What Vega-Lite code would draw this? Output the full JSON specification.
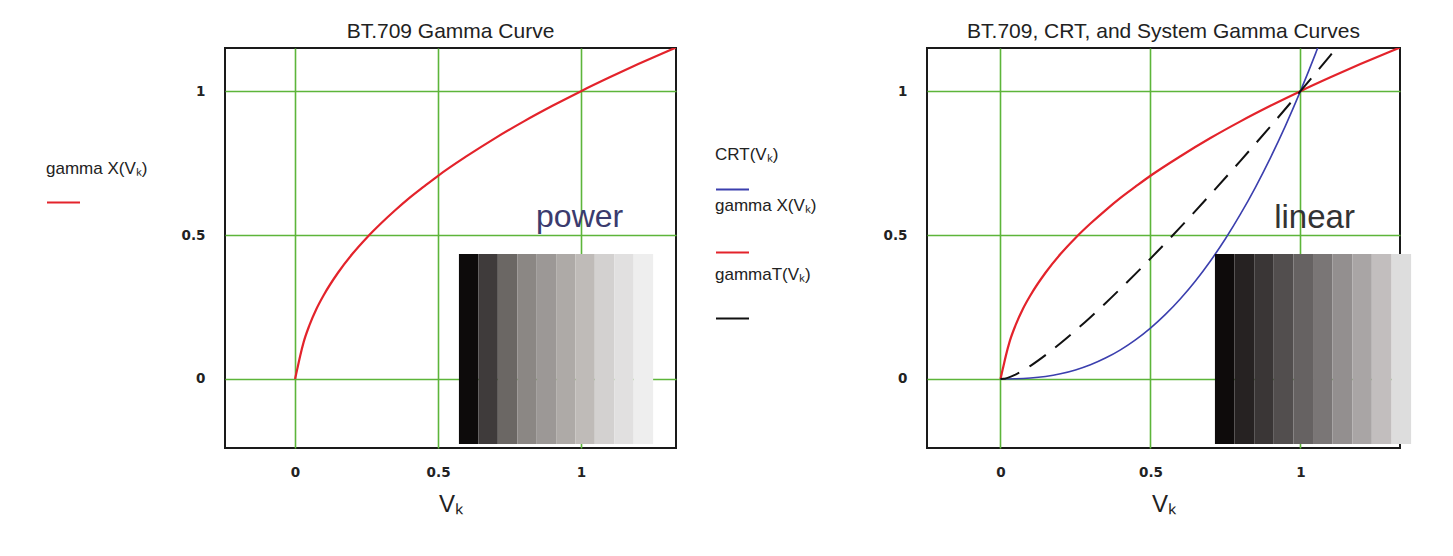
{
  "$schema": "https://vega.github.io/schema/vega-lite/v6.json",
  "background": "white",
  "padding": {"left": 45, "top": 20, "right": 5, "bottom": 5},
  "config": {
    "view": {"stroke": "#1a1a1a", "strokeWidth": 2},
    "axis": {"grid": true, "gridColor": "#5db53a", "gridWidth": 1.6, "gridOpacity": 1, "domain": false, "ticks": false,
      "labelFont": "DejaVu Sans", "labelFontWeight": "bold", "labelFontSize": 13.5, "labelColor": "#222",
      "titleFont": "Liberation Sans", "titleFontWeight": "normal", "titleFontSize": 24, "titleColor": "#222"},
    "title": {"font": "Liberation Sans", "fontSize": 21, "fontWeight": "normal", "color": "#222", "offset": 6},
    "legend": {"padding": 0, "titleFont": "Liberation Sans", "titleFontSize": 17, "titleFontWeight": "normal", "titleColor": "#222",
      "labelFontSize": 1, "symbolType": "stroke", "symbolSize": 1089, "symbolStrokeWidth": 2}
  },
  "datasets": {
    "curves": [
      {"series": "gammaX", "v": 0, "out": 0},
      {"series": "gammaX", "v": 0.004, "out": 0.018},
      {"series": "gammaX", "v": 0.01, "out": 0.045},
      {"series": "gammaX", "v": 0.018, "out": 0.081},
      {"series": "gammaX", "v": 0.03, "out": 0.128},
      {"series": "gammaX", "v": 0.05, "out": 0.186},
      {"series": "gammaX", "v": 0.075, "out": 0.244},
      {"series": "gammaX", "v": 0.1, "out": 0.291},
      {"series": "gammaX", "v": 0.15, "out": 0.369},
      {"series": "gammaX", "v": 0.2, "out": 0.434},
      {"series": "gammaX", "v": 0.25, "out": 0.49},
      {"series": "gammaX", "v": 0.3, "out": 0.54},
      {"series": "gammaX", "v": 0.35, "out": 0.586},
      {"series": "gammaX", "v": 0.4, "out": 0.629},
      {"series": "gammaX", "v": 0.45, "out": 0.668},
      {"series": "gammaX", "v": 0.5, "out": 0.706},
      {"series": "gammaX", "v": 0.6, "out": 0.774},
      {"series": "gammaX", "v": 0.7, "out": 0.837},
      {"series": "gammaX", "v": 0.8, "out": 0.895},
      {"series": "gammaX", "v": 0.9, "out": 0.949},
      {"series": "gammaX", "v": 1.0, "out": 1.0},
      {"series": "gammaX", "v": 1.1, "out": 1.048},
      {"series": "gammaX", "v": 1.2, "out": 1.094},
      {"series": "gammaX", "v": 1.3, "out": 1.138},
      {"series": "gammaX", "v": 1.34, "out": 1.155},
      {"series": "CRT", "v": 0, "out": 0},
      {"series": "CRT", "v": 0.05, "out": 0.0006},
      {"series": "CRT", "v": 0.1, "out": 0.0032},
      {"series": "CRT", "v": 0.15, "out": 0.0087},
      {"series": "CRT", "v": 0.2, "out": 0.0179},
      {"series": "CRT", "v": 0.25, "out": 0.0313},
      {"series": "CRT", "v": 0.3, "out": 0.0493},
      {"series": "CRT", "v": 0.35, "out": 0.0725},
      {"series": "CRT", "v": 0.4, "out": 0.1012},
      {"series": "CRT", "v": 0.45, "out": 0.1358},
      {"series": "CRT", "v": 0.5, "out": 0.1768},
      {"series": "CRT", "v": 0.55, "out": 0.2243},
      {"series": "CRT", "v": 0.6, "out": 0.2789},
      {"series": "CRT", "v": 0.65, "out": 0.3406},
      {"series": "CRT", "v": 0.7, "out": 0.41},
      {"series": "CRT", "v": 0.75, "out": 0.4871},
      {"series": "CRT", "v": 0.8, "out": 0.5724},
      {"series": "CRT", "v": 0.85, "out": 0.6661},
      {"series": "CRT", "v": 0.9, "out": 0.7684},
      {"series": "CRT", "v": 0.95, "out": 0.8796},
      {"series": "CRT", "v": 1.0, "out": 1.0},
      {"series": "CRT", "v": 1.05, "out": 1.1297},
      {"series": "CRT", "v": 1.1, "out": 1.2691},
      {"series": "gammaT", "v": 0, "out": 0},
      {"series": "gammaT", "v": 0.01, "out": 0.0004},
      {"series": "gammaT", "v": 0.018, "out": 0.0019},
      {"series": "gammaT", "v": 0.05, "out": 0.015},
      {"series": "gammaT", "v": 0.1, "out": 0.0456},
      {"series": "gammaT", "v": 0.15, "out": 0.0828},
      {"series": "gammaT", "v": 0.2, "out": 0.1239},
      {"series": "gammaT", "v": 0.25, "out": 0.1681},
      {"series": "gammaT", "v": 0.3, "out": 0.2146},
      {"series": "gammaT", "v": 0.35, "out": 0.2631},
      {"series": "gammaT", "v": 0.4, "out": 0.3134},
      {"series": "gammaT", "v": 0.45, "out": 0.3651},
      {"series": "gammaT", "v": 0.5, "out": 0.4181},
      {"series": "gammaT", "v": 0.6, "out": 0.5275},
      {"series": "gammaT", "v": 0.7, "out": 0.641},
      {"series": "gammaT", "v": 0.8, "out": 0.7578},
      {"series": "gammaT", "v": 0.9, "out": 0.8776},
      {"series": "gammaT", "v": 1.0, "out": 1.0},
      {"series": "gammaT", "v": 1.1, "out": 1.1246},
      {"series": "gammaT", "v": 1.2, "out": 1.2518}
    ],
    "wedge": [
      {"panel": "left", "level": 1, "x0": 0.573, "x1": 0.641, "y0": -0.226, "y1": 0.434},
      {"panel": "left", "level": 2, "x0": 0.641, "x1": 0.709, "y0": -0.226, "y1": 0.434},
      {"panel": "left", "level": 3, "x0": 0.709, "x1": 0.777, "y0": -0.226, "y1": 0.434},
      {"panel": "left", "level": 4, "x0": 0.777, "x1": 0.845, "y0": -0.226, "y1": 0.434},
      {"panel": "left", "level": 5, "x0": 0.845, "x1": 0.913, "y0": -0.226, "y1": 0.434},
      {"panel": "left", "level": 6, "x0": 0.913, "x1": 0.98, "y0": -0.226, "y1": 0.434},
      {"panel": "left", "level": 7, "x0": 0.98, "x1": 1.048, "y0": -0.226, "y1": 0.434},
      {"panel": "left", "level": 8, "x0": 1.048, "x1": 1.116, "y0": -0.226, "y1": 0.434},
      {"panel": "left", "level": 9, "x0": 1.116, "x1": 1.184, "y0": -0.226, "y1": 0.434},
      {"panel": "left", "level": 10, "x0": 1.184, "x1": 1.252, "y0": -0.226, "y1": 0.434},
      {"panel": "right", "level": 1, "x0": 0.715, "x1": 0.78, "y0": -0.226, "y1": 0.434},
      {"panel": "right", "level": 2, "x0": 0.78, "x1": 0.846, "y0": -0.226, "y1": 0.434},
      {"panel": "right", "level": 3, "x0": 0.846, "x1": 0.911, "y0": -0.226, "y1": 0.434},
      {"panel": "right", "level": 4, "x0": 0.911, "x1": 0.977, "y0": -0.226, "y1": 0.434},
      {"panel": "right", "level": 5, "x0": 0.977, "x1": 1.042, "y0": -0.226, "y1": 0.434},
      {"panel": "right", "level": 6, "x0": 1.042, "x1": 1.107, "y0": -0.226, "y1": 0.434},
      {"panel": "right", "level": 7, "x0": 1.107, "x1": 1.173, "y0": -0.226, "y1": 0.434},
      {"panel": "right", "level": 8, "x0": 1.173, "x1": 1.238, "y0": -0.226, "y1": 0.434},
      {"panel": "right", "level": 9, "x0": 1.238, "x1": 1.304, "y0": -0.226, "y1": 0.434},
      {"panel": "right", "level": 10, "x0": 1.304, "x1": 1.369, "y0": -0.226, "y1": 0.434}
    ],
    "notes": [
      {"panel": "left", "label": "power", "x": 0.995, "y": 0.528},
      {"panel": "right", "label": "linear", "x": 1.047, "y": 0.524}
    ]
  },
  "spacing": 37,
  "resolve": {"scale": {"x": "independent", "y": "independent", "color": "independent"}},
  "hconcat": [
    {
      "title": "BT.709 Gamma Curve",
      "width": 451,
      "height": 400,
      "resolve": {"scale": {"color": "independent"}},
      "layer": [
        {
          "data": {"name": "curves"},
          "transform": [{"filter": "datum.series === 'gammaX'"}],
          "mark": {"type": "line", "clip": true, "strokeWidth": 2.2, "interpolate": "monotone"},
          "encoding": {
            "x": {"field": "v", "type": "quantitative", "scale": {"domain": [-0.245, 1.332], "nice": false, "zero": false},
              "axis": {"values": [0, 0.5, 1], "format": "~g", "title": "Vₖ", "labelPadding": 17, "titlePadding": 14}},
            "y": {"field": "out", "type": "quantitative", "scale": {"domain": [-0.24, 1.15], "nice": false, "zero": false},
              "axis": {"values": [0, 0.5, 1], "format": "~g", "title": null, "labelPadding": 20}},
            "color": {"field": "series", "type": "nominal", "scale": {"range": ["#e3232b"]},
              "legend": {"orient": "none", "legendX": -179, "legendY": 113, "title": "gamma X(Vₖ)", "titlePadding": 7, "labelExpr": "''"}}
          }
        },
        {
          "data": {"name": "wedge"},
          "transform": [{"filter": "datum.panel === 'left'"}],
          "mark": {"type": "rect"},
          "encoding": {
            "x": {"field": "x0", "type": "quantitative", "scale": {"domain": [-0.245, 1.332], "nice": false, "zero": false}},
            "x2": {"field": "x1"},
            "y": {"field": "y0", "type": "quantitative", "scale": {"domain": [-0.24, 1.15], "nice": false, "zero": false}},
            "y2": {"field": "y1"},
            "color": {"field": "level", "type": "ordinal", "legend": null,
              "scale": {"range": ["#0d0b0b", "#3f3b3b", "#6b6764", "#8b8784", "#9c9896", "#aeaaa7", "#bfbbb8", "#d3d1d0", "#e1e0e0", "#eeeeee"]}}
          }
        },
        {
          "data": {"name": "notes"},
          "transform": [{"filter": "datum.panel === 'left'"}],
          "mark": {"type": "text", "font": "Liberation Sans", "fontSize": 32, "baseline": "alphabetic", "align": "center", "color": "#3b3b6e"},
          "encoding": {
            "x": {"field": "x", "type": "quantitative", "scale": {"domain": [-0.245, 1.332], "nice": false, "zero": false}},
            "y": {"field": "y", "type": "quantitative", "scale": {"domain": [-0.24, 1.15], "nice": false, "zero": false}},
            "text": {"field": "label"}
          }
        }
      ]
    },
    {
      "title": "BT.709, CRT, and System Gamma Curves",
      "width": 473,
      "height": 400,
      "resolve": {"scale": {"color": "independent"}},
      "layer": [
        {
          "data": {"name": "curves"},
          "transform": [{"filter": "datum.series === 'gammaX'"}],
          "mark": {"type": "line", "clip": true, "strokeWidth": 2.2, "interpolate": "monotone"},
          "encoding": {
            "x": {"field": "v", "type": "quantitative", "scale": {"domain": [-0.245, 1.332], "nice": false, "zero": false},
              "axis": {"values": [0, 0.5, 1], "format": "~g", "title": "Vₖ", "labelPadding": 17, "titlePadding": 14}},
            "y": {"field": "out", "type": "quantitative", "scale": {"domain": [-0.24, 1.15], "nice": false, "zero": false},
              "axis": {"values": [0, 0.5, 1], "format": "~g", "title": null, "labelPadding": 20}},
            "color": {"field": "series", "type": "nominal", "scale": {"range": ["#e3232b"]},
              "legend": {"orient": "none", "legendX": -212, "legendY": 150, "title": "gamma X(Vₖ)", "titlePadding": 20, "labelExpr": "''"}}
          }
        },
        {
          "data": {"name": "curves"},
          "transform": [{"filter": "datum.series === 'CRT'"}],
          "mark": {"type": "line", "clip": true, "strokeWidth": 1.6, "interpolate": "monotone"},
          "encoding": {
            "x": {"field": "v", "type": "quantitative", "scale": {"domain": [-0.245, 1.332], "nice": false, "zero": false}},
            "y": {"field": "out", "type": "quantitative", "scale": {"domain": [-0.24, 1.15], "nice": false, "zero": false}},
            "color": {"field": "series", "type": "nominal", "scale": {"range": ["#3b3fae"]},
              "legend": {"orient": "none", "legendX": -212, "legendY": 99, "title": "CRT(Vₖ)", "titlePadding": 8, "labelExpr": "''"}}
          }
        },
        {
          "data": {"name": "curves"},
          "transform": [{"filter": "datum.series === 'gammaT'"}],
          "mark": {"type": "line", "clip": true, "strokeWidth": 2, "strokeDash": [20, 12], "interpolate": "monotone"},
          "encoding": {
            "x": {"field": "v", "type": "quantitative", "scale": {"domain": [-0.245, 1.332], "nice": false, "zero": false}},
            "y": {"field": "out", "type": "quantitative", "scale": {"domain": [-0.24, 1.15], "nice": false, "zero": false}},
            "color": {"field": "series", "type": "nominal", "scale": {"range": ["#111111"]},
              "legend": {"orient": "none", "legendX": -212, "legendY": 219, "title": "gammaT(Vₖ)", "titlePadding": 17, "labelExpr": "''"}}
          }
        },
        {
          "data": {"name": "wedge"},
          "transform": [{"filter": "datum.panel === 'right'"}],
          "mark": {"type": "rect"},
          "encoding": {
            "x": {"field": "x0", "type": "quantitative", "scale": {"domain": [-0.245, 1.332], "nice": false, "zero": false}},
            "x2": {"field": "x1"},
            "y": {"field": "y0", "type": "quantitative", "scale": {"domain": [-0.24, 1.15], "nice": false, "zero": false}},
            "y2": {"field": "y1"},
            "color": {"field": "level", "type": "ordinal", "legend": null,
              "scale": {"range": ["#0e0b0b", "#262222", "#3a3636", "#524e4e", "#666262", "#7a7676", "#938f8f", "#a9a5a5", "#c2bebe", "#dddddd"]}}
          }
        },
        {
          "data": {"name": "notes"},
          "transform": [{"filter": "datum.panel === 'right'"}],
          "mark": {"type": "text", "font": "Liberation Sans", "fontSize": 33, "baseline": "alphabetic", "align": "center", "color": "#333333"},
          "encoding": {
            "x": {"field": "x", "type": "quantitative", "scale": {"domain": [-0.245, 1.332], "nice": false, "zero": false}},
            "y": {"field": "y", "type": "quantitative", "scale": {"domain": [-0.24, 1.15], "nice": false, "zero": false}},
            "text": {"field": "label"}
          }
        }
      ]
    }
  ]
}
